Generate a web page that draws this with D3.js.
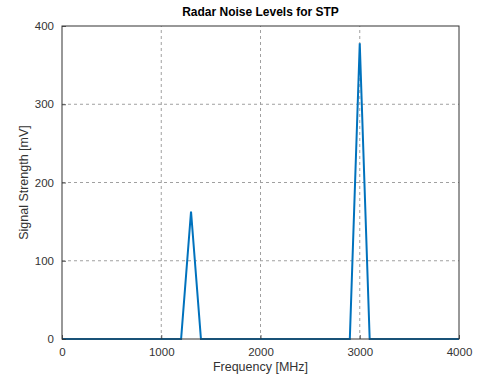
<!DOCTYPE html>
<html>
<head>
<meta charset="utf-8">
<script src="https://cdn.jsdelivr.net/npm/d3@7"></script>
<style>
  html, body { margin: 0; padding: 0; background: #fff; }
  svg { display: block; font-family: Arial, "Liberation Sans", Helvetica, sans-serif; }
</style>
</head>
<body>
<svg id="chart" width="485" height="375"></svg>
<script>
// Spectrum samples: frequency (MHz) and measured signal strength (mV)
const frequencies = [0, 100, 200, 300, 400, 500, 600, 700, 800, 900, 1000,
  1100, 1200, 1300, 1400, 1500, 1600, 1700, 1800, 1900, 2000,
  2100, 2200, 2300, 2400, 2500, 2600, 2700, 2800, 2900, 3000,
  3100, 3200, 3300, 3400, 3500, 3600, 3700, 3800, 3900, 4000];
const strengths = [0, 0, 0, 0, 0, 0, 0, 0, 0, 0, 0,
  0, 0, 163, 0, 0, 0, 0, 0, 0, 0,
  0, 0, 0, 0, 0, 0, 0, 0, 0, 378,
  0, 0, 0, 0, 0, 0, 0, 0, 0, 0];
const xTicks = [0, 1000, 2000, 3000, 4000];
const yTicks = [0, 100, 200, 300, 400];

const titleText = "Radar Noise Levels for STP";
const xLabel = "Frequency [MHz]";
const yLabel = "Signal Strength [mV]";

const margin = { left: 62, right: 26, top: 26, bottom: 36 };
const W = 485, H = 375;
const svg = d3.select("#chart");

const x = d3.scaleLinear().domain([0, 4000]).range([margin.left, W - margin.right]);
const y = d3.scaleLinear().domain([0, 400]).range([H - margin.bottom, margin.top]);

const axisColor = "#333333";
const gridColor = "#a0a0a0";

// grid lines (dashed)
const grid = svg.append("g");
grid.selectAll("line.gx").data(xTicks.slice(1, -1)).join("line")
  .attr("x1", d => x(d)).attr("x2", d => x(d))
  .attr("y1", y(0)).attr("y2", y(400))
  .attr("stroke", gridColor).attr("stroke-width", 1)
  .attr("stroke-dasharray", "3,3");
grid.selectAll("line.gy").data(yTicks.slice(1, -1)).join("line")
  .attr("x1", x(0)).attr("x2", x(4000))
  .attr("y1", d => y(d)).attr("y2", d => y(d))
  .attr("stroke", gridColor).attr("stroke-width", 1)
  .attr("stroke-dasharray", "3,3");

// data line
const line = d3.line()
  .x((d, i) => x(frequencies[i]))
  .y(d => y(d));
svg.append("path")
  .datum(strengths)
  .attr("d", line)
  .attr("fill", "none")
  .attr("stroke", "#0072BD")
  .attr("stroke-width", 2)
  .attr("stroke-linejoin", "miter");

// axes with inward ticks
const xAxis = d3.axisBottom(x).tickValues(xTicks).tickSize(-4).tickPadding(8).tickFormat(d3.format("d"));
const yAxis = d3.axisLeft(y).tickValues(yTicks).tickSize(-4).tickPadding(8).tickFormat(d3.format("d"));

const gx = svg.append("g").attr("transform", `translate(0,${y(0)})`).call(xAxis);
const gy = svg.append("g").attr("transform", `translate(${x(0)},0)`).call(yAxis);
[gx, gy].forEach(g => {
  g.select(".domain").remove();
  g.selectAll(".tick line").attr("stroke", axisColor).attr("stroke-width", 0.8);
  g.selectAll(".tick text").attr("fill", axisColor).attr("font-size", 11.5)
    .attr("font-family", "Arial, 'Liberation Sans', sans-serif");
});
gx.selectAll(".tick text").attr("dy", "0.75em");

// box
svg.append("rect")
  .attr("x", x(0)).attr("y", y(400))
  .attr("width", x(4000) - x(0)).attr("height", y(0) - y(400))
  .attr("fill", "none").attr("stroke", axisColor).attr("stroke-width", 1);

// title and labels
svg.append("text")
  .attr("x", (x(0) + x(4000)) / 2).attr("y", 16)
  .attr("text-anchor", "middle")
  .attr("font-size", 12).attr("font-weight", "bold").attr("fill", "#000")
  .text(titleText);

svg.append("text")
  .attr("x", (x(0) + x(4000)) / 2).attr("y", 371)
  .attr("text-anchor", "middle")
  .attr("font-size", 12.5).attr("fill", axisColor)
  .text(xLabel);

svg.append("text")
  .attr("transform", `translate(28,${(y(0) + y(400)) / 2}) rotate(-90)`)
  .attr("text-anchor", "middle")
  .attr("font-size", 12.5).attr("fill", axisColor)
  .text(yLabel);
</script>
</body>
</html>
